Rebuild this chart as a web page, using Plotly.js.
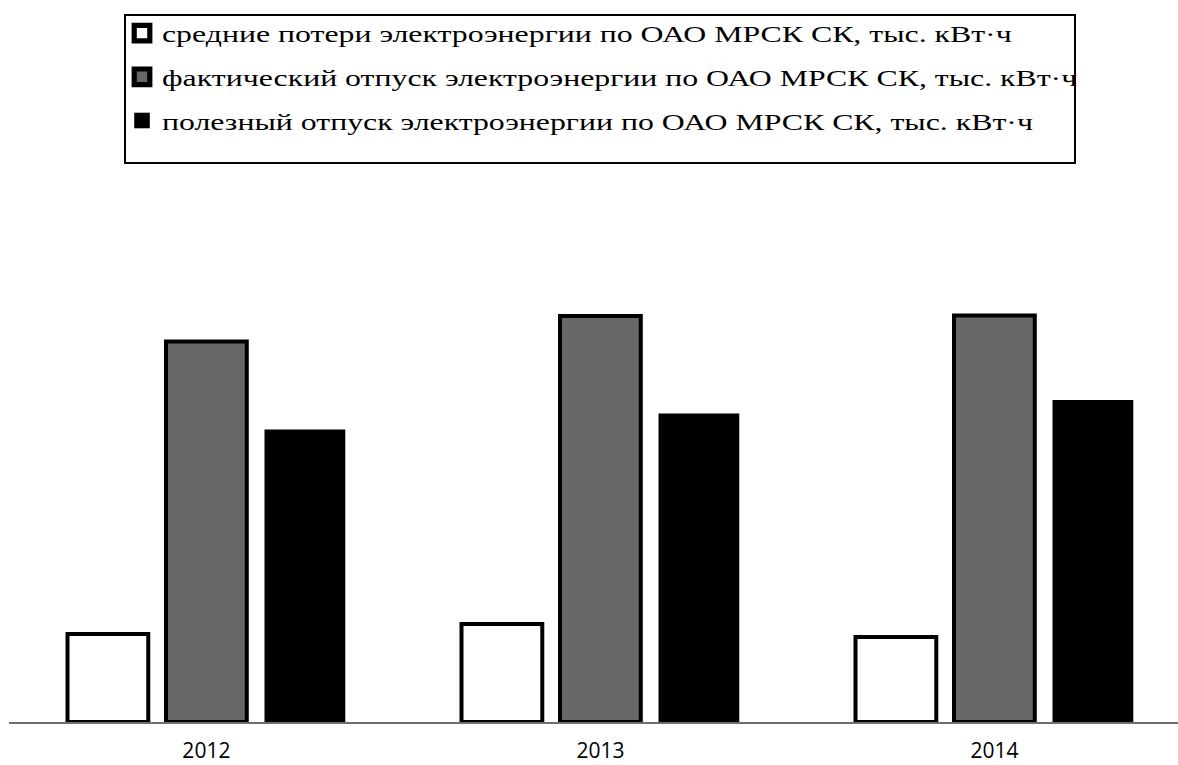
<!DOCTYPE html>
<html>
<head>
<meta charset="utf-8">
<script src="https://cdn.plot.ly/plotly-3.0.1.min.js"></script>
<style>html,body{margin:0;padding:0;background:#fff;}#chart{width:1178px;height:765px;}</style>
</head>
<body>
<div id="chart"></div>
<script>
const years = ['2012', '2013', '2014'];
const seriesNames = [
  'средние потери электроэнергии по ОАО МРСК СК, тыс. кВт·ч',
  'фактический отпуск электроэнергии по ОАО МРСК СК, тыс. кВт·ч',
  'полезный отпуск электроэнергии по ОАО МРСК СК, тыс. кВт·ч'
];
const avgLosses = [88, 98, 85];
const actualSupply = [380.5, 406, 406.5];
const usefulSupply = [292.5, 308.5, 322];

const traces = [
  {type: 'bar', name: seriesNames[0], x: years, y: avgLosses, legendgroup: 'a',
   marker: {color: '#ffffff', line: {color: '#000000', width: 4}}},
  {type: 'bar', name: seriesNames[1], x: years, y: actualSupply, legendgroup: 'b',
   marker: {color: '#676767', line: {color: '#000000', width: 4}}},
  {type: 'bar', name: seriesNames[2], x: years, y: usefulSupply, legendgroup: 'c',
   marker: {color: '#000000', line: {color: '#000000', width: 0}}}
];

const W = 1178, H = 765, ML = 9, MR = 0, MT = 200, MB = 43;
const PW = W - ML - MR, PH = H - MT - MB;

const layout = {
  width: W, height: H,
  margin: {l: ML, r: MR, t: MT, b: MB, pad: 0},
  paper_bgcolor: '#ffffff', plot_bgcolor: '#ffffff',
  barmode: 'group', bargap: 0.25, bargroupgap: 0.18,
  showlegend: true,
  legend: {
    xref: 'paper', yref: 'container',
    x: (122 - ML) / PW, y: 1 - 11 / H, xanchor: 'left', yanchor: 'top',
    bgcolor: 'rgba(0,0,0,0)', borderwidth: 0,
    traceorder: 'grouped', tracegroupgap: 9.5,
    font: {family: 'Liberation Serif, Times New Roman, serif', size: 24, color: '#000000'}
  },
  xaxis: {
    type: 'category', range: [-0.501, 2.466], fixedrange: true,
    showline: true, linecolor: '#6e6e6e', linewidth: 2,
    showgrid: false, zeroline: false,
    ticks: 'outside', ticklen: 9, tickcolor: 'rgba(0,0,0,0)',
    tickfont: {family: 'Open Sans, sans-serif', size: 21, color: '#000000'},
    automargin: false
  },
  yaxis: {range: [0, PH], visible: false, showgrid: false, zeroline: false, fixedrange: true},
  shapes: [
    {type: 'rect', xref: 'paper', yref: 'paper', layer: 'above',
     x0: (125 - ML) / PW, x1: (1075 - ML) / PW,
     y0: (H - MB - 163) / PH, y1: (H - MB - 15) / PH,
     line: {color: '#000000', width: 2}, fillcolor: 'rgba(0,0,0,0)'}
  ]
};

Plotly.newPlot('chart', traces, layout, {displayModeBar: false, staticPlot: true}).then(function (gd) {
  // the reference text is horizontally widened; stretch legend labels accordingly
  const stretch = 1.325;
  gd.querySelectorAll('.legend [clip-path]').forEach(function (el) {
    el.removeAttribute('clip-path');
  });
  gd.querySelectorAll('text.legendtext').forEach(function (t) {
    const len = t.getComputedTextLength();
    t.setAttribute('textLength', (len * stretch).toFixed(1));
    t.setAttribute('lengthAdjust', 'spacingAndGlyphs');
  });
  // slightly larger legend swatches, as in the reference
  gd.querySelectorAll('.legend .legendpoints path').forEach(function (p) {
    const tr = p.getAttribute('transform') || '';
    p.setAttribute('transform', (tr + ' scale(1.3)').trim());
  });
});
</script>
</body>
</html>
